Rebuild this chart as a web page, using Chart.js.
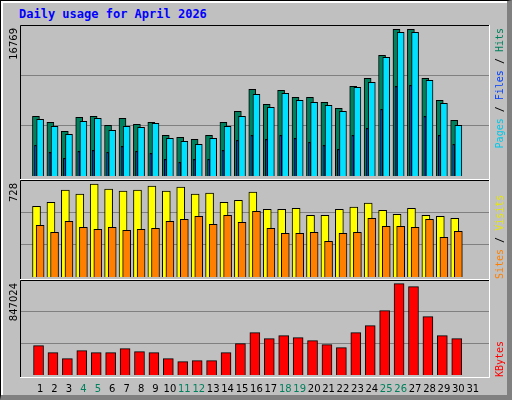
<!DOCTYPE html>
<html><head><meta charset="utf-8">
<script src="https://cdn.jsdelivr.net/npm/chart.js@4"></script>
<style>
html,body{margin:0;padding:0;background:#c0c0c0;}
#frame{position:absolute;left:0;top:0;width:512px;height:400px;box-sizing:border-box;background:#c0c0c0;
 border-top:1px solid #000;border-left:1px solid #000;border-right:5px solid #808080;border-bottom:5px solid #808080;
 box-shadow:inset 2px 2px 0 #fff;}
#title{position:absolute;left:19px;top:7px;font:bold 12px "DejaVu Sans Mono",monospace;color:#0000ff;}
canvas{position:absolute;left:0;}
</style></head><body>
<div id="frame"></div>
<div id="title">Daily usage for April 2026</div>
<canvas id="c1" style="top:25px"></canvas>
<canvas id="c2" style="top:180px"></canvas>
<canvas id="c3" style="top:280px"></canvas>
<script>
const days=[1,2,3,4,5,6,7,8,9,10,11,12,13,14,15,16,17,18,19,20,21,22,23,24,25,26,27,28,29,30,31];
const weekend=[4,5,11,12,18,19,25,26];
const hits=[6630,5963,4964,6519,6630,5630,6408,5741,5963,4520,4298,4076,4520,5963,7185,9628,7962,9517,8740,8740,8184,7518,9961,10850,13404,16291,16291,10850,8407,6186];
const files=[6297,5519,4631,6074,6408,5075,5519,5408,5852,4187,3853,3520,4187,5519,6630,9073,7629,9184,8407,8184,7851,7185,9850,10405,13182,15958,15958,10628,8073,5630];
const pages=[3409,2632,1966,2743,2854,2632,3298,2743,2521,1855,1521,1855,1855,2854,3964,4520,4076,4520,4187,3742,3409,2965,4520,5297,7407,9961,10072,6630,4520,3520];
const visits=[531,561,652,622,697,659,644,652,682,644,675,622,629,561,576,637,508,508,516,463,463,508,524,554,501,471,516,463,456,440];
const sites=[388,335,418,373,357,373,350,357,365,418,433,456,395,463,410,493,365,327,327,335,267,327,335,440,380,380,373,433,297,342];
const kbytes=[261536,199124,145628,216956,199124,199124,234788,208040,199124,145628,118880,127796,127796,199124,279368,377444,323948,350696,332864,306116,270452,243704,377444,439856,573596,814328,787580,520100,350696,323948];
const maxHits=16769, maxVisits=728, maxKB=847024;

const pts=(arr,off)=>arr.map((v,i)=>({x:days[i]+off,y:v}));
function ds(label,arr,off,color,w,order){
  return {label,data:pts(arr,off),backgroundColor:color,borderColor:'#000',borderWidth:1,
    barThickness:w,grouped:false,order,borderSkipped:'bottom'};
}
function sideText(ctx,area,maxLabel,parts,anchorTop){
  ctx.save();
  ctx.font='10px "DejaVu Sans"';ctx.fillStyle='#000';
  ctx.translate(14,area.top+3);ctx.rotate(-Math.PI/2);
  ctx.textAlign='right';ctx.textBaseline='middle';
  ctx.fillText(maxLabel,0,0);
  ctx.restore();
  ctx.save();
  ctx.font='10px "DejaVu Sans Mono"';
  let total=0;parts.forEach(p=>total+=ctx.measureText(p[0]).width);
  const x=500;
  let start=anchorTop?area.top+3+total:area.bottom-1;
  ctx.translate(x,start);ctx.rotate(-Math.PI/2);
  ctx.textBaseline='middle';ctx.textAlign='left';
  let pos=0;
  parts.forEach(p=>{ctx.fillStyle=p[1];ctx.fillText(p[0],pos,0);pos+=ctx.measureText(p[0]).width;});
  ctx.restore();
}
function makeChart(id,h,datasets,maxV,zeroPad,plotH,parts,anchorTop,showX){
  const cv=document.getElementById(id);
  cv.width=512;cv.height=h;cv.style.width='512px';cv.style.height=h+'px';
  const minV=-zeroPad/(plotH-zeroPad)*maxV;
  new Chart(cv,{type:'bar',data:{datasets},
    options:{responsive:false,animation:false,devicePixelRatio:1,
      layout:{padding:{left:20,right:22,top:0,bottom:showX?0:(h-plotH)}},
      plugins:{legend:{display:false},tooltip:{enabled:false},title:{display:false}},
      scales:{
        x:{type:'linear',min:0.13,max:31.67,display:showX,
          grid:{display:false,drawTicks:false},border:{display:false},
          afterBuildTicks:s=>{s.ticks=days.map(d=>({value:d}));},
          afterFit:s=>{s.height=h-plotH;},
          ticks:{autoSkip:false,maxRotation:0,padding:5,font:{family:'DejaVu Sans',size:10},
            color:c=>weekend.includes(c.tick.value)?'#00805c':'#000',
            callback:v=>String(v)}},
        y:{min:minV,max:maxV,grid:{color:'#808080',drawTicks:false},border:{display:false},
          afterBuildTicks:s=>{s.ticks=[{value:maxV/3},{value:2*maxV/3}];},
          afterFit:s=>{s.width=0;},
          ticks:{display:false}}
      }},
    plugins:[{id:'deco',afterDraw(ch){
      const c=ch.ctx,a=ch.chartArea;
      c.save();c.lineWidth=1;
      c.strokeStyle='#000';c.beginPath();c.moveTo(a.left+0.5,a.bottom);c.lineTo(a.left+0.5,a.top+0.5);c.lineTo(a.right,a.top+0.5);c.stroke();
      c.strokeStyle='#fff';c.beginPath();c.moveTo(a.right-0.5,a.top);c.lineTo(a.right-0.5,a.bottom-0.5);c.lineTo(a.left,a.bottom-0.5);c.stroke();
      c.restore();
      sideText(c,a,String(maxV),parts,anchorTop);
    }}]
  });
}
makeChart('c1',155,[
  ds('Hits',hits,-0.29,'#00805c',7,3),
  ds('Files',files,0,'#00e0ff',7,2),
  ds('Pages',pages,-0.32,'#0040ff',2,1)
],maxHits,4,155,[['Pages','#00c8e8'],[' / ','#000'],['Files','#0040ff'],[' / ','#000'],['Hits','#00805c']],true,false);
makeChart('c2',100,[
  ds('Visits',visits,-0.25,'#ffff00',8,2),
  ds('Sites',sites,0,'#ff8000',8,1)
],maxVisits,3,100,[['Sites','#ff8000'],[' / ','#000'],['Visits','#e8e800']],false,false);
makeChart('c3',120,[
  ds('KBytes',kbytes,-0.11,'#ff0000',10,1)
],maxKB,3,98,[['KBytes','#ff0000']],false,true);
</script></body></html>
